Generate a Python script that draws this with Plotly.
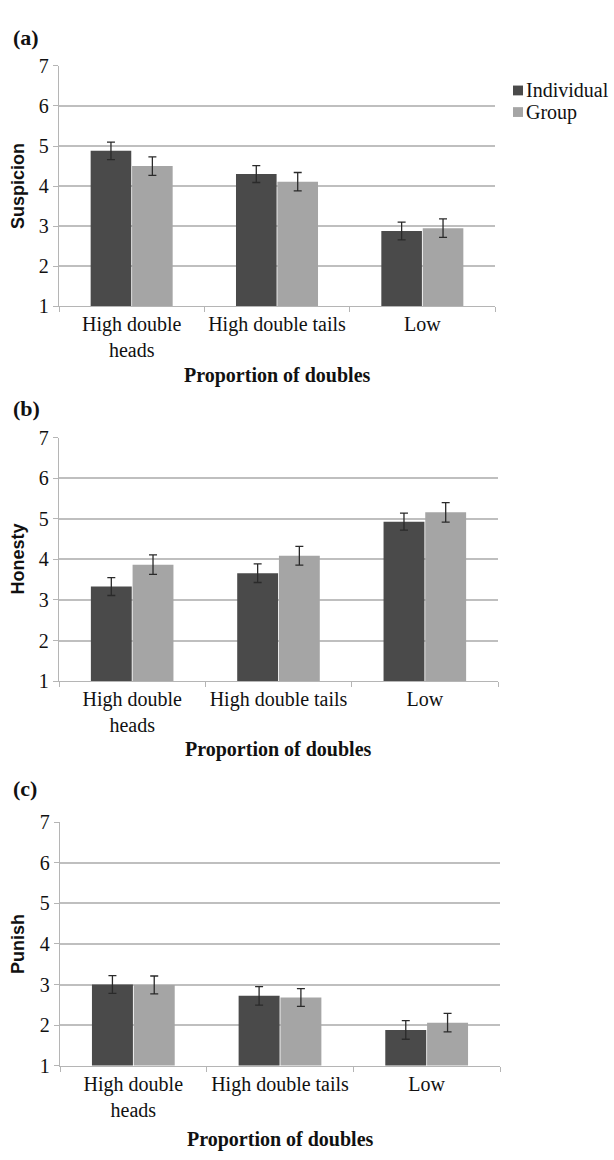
import plotly.graph_objects as go

# Condition categories shared by all three panels
categories = ["High double<br>heads", "High double tails", "Low"]

# Panel (a): Suspicion
suspicion_individual = [4.88, 4.30, 2.88]
suspicion_individual_err = [0.22, 0.21, 0.22]
suspicion_group = [4.50, 4.11, 2.95]
suspicion_group_err = [0.23, 0.23, 0.23]

# Panel (b): Honesty
honesty_individual = [3.33, 3.66, 4.93]
honesty_individual_err = [0.22, 0.23, 0.21]
honesty_group = [3.87, 4.09, 5.16]
honesty_group_err = [0.24, 0.23, 0.24]

# Panel (c): Punish
punish_individual = [3.00, 2.72, 1.88]
punish_individual_err = [0.22, 0.23, 0.23]
punish_group = [2.99, 2.68, 2.06]
punish_group_err = [0.22, 0.22, 0.23]

series_names = ["Individual", "Group"]
panel_tags = ["(a)", "(b)", "(c)"]
y_titles = ["Suspicion", "Honesty", "Punish"]
x_title = "Proportion of doubles"
y_ticks = [1, 2, 3, 4, 5, 6, 7]

DARK = "#4a4a4a"
LIGHT = "#a5a5a5"
SERIF = "Liberation Serif"
SANS = "Liberation Sans"
INK = "#111111"
W, H = 614, 1160

panels = [
    (suspicion_individual, suspicion_individual_err, suspicion_group, suspicion_group_err),
    (honesty_individual, honesty_individual_err, honesty_group, honesty_group_err),
    (punish_individual, punish_individual_err, punish_group, punish_group_err),
]

# plot areas in pixels (left, right, top, bottom)
boxes = [(59, 495, 56, 301), (59, 498, 435, 683), (60, 500, 827, 1075)]
tag_y = [27, 405, 793]
xtitle_y = [372, 753, 1150]


def px_x(v):
    return v / W


def px_y(v):
    return 1 - v / H


fig = go.Figure()
annotations = []
shapes = []

for i, ((ind, ind_e, grp, grp_e), (l, r, t, b)) in enumerate(zip(panels, boxes)):
    n = "" if i == 0 else str(i + 1)
    xa, ya = "x" + n, "y" + n
    for vals, errs, color, name in ((ind, ind_e, DARK, series_names[0]),
                                    (grp, grp_e, LIGHT, series_names[1])):
        fig.add_trace(go.Bar(
            x=categories, y=vals, name=name, marker_color=color,
            marker_line_width=0,
            error_y=dict(type="data", array=errs, color="#2a2a2a",
                         thickness=1.3, width=4),
            xaxis=xa, yaxis=ya, showlegend=False,
        ))
    fig.update_layout(**{
        "xaxis" + n: dict(
            domain=[px_x(l), px_x(r)], anchor=ya, type="category",
            showline=True, linecolor="#b5b5b5", linewidth=1.3,
            ticks="outside", tickson="boundaries", ticklen=5, tickcolor="#b5b5b5",
            tickangle=0, tickfont=dict(family=SERIF, size=20, color=INK),
            showgrid=False, zeroline=False,
        ),
        "yaxis" + n: dict(
            domain=[px_y(b), px_y(t)], anchor=xa, range=[1, 7],
            tickvals=y_ticks, showline=True, linecolor="#b5b5b5", linewidth=1.3,
            ticks="outside", ticklen=5, tickcolor="#b5b5b5",
            showgrid=True, gridcolor="#bfbfbf", gridwidth=1.5,
            tickfont=dict(family=SERIF, size=20, color=INK),
            zeroline=False,
        ),
    })
    annotations.append(dict(
        text="<b>" + panel_tags[i] + "</b>", xref="paper", yref="paper",
        x=px_x(11), y=px_y(tag_y[i]), xanchor="left", yanchor="middle",
        showarrow=False, font=dict(family=SERIF, size=22, color=INK),
    ))
    annotations.append(dict(
        text="<b>" + y_titles[i] + "</b>", xref="paper", yref="paper",
        x=px_x(18), y=px_y((t + b) / 2), xanchor="center", yanchor="middle",
        textangle=-90, showarrow=False, font=dict(family=SANS, size=18, color=INK),
    ))
    annotations.append(dict(
        text="<b>" + x_title + "</b>", xref="paper", yref="paper",
        x=px_x((l + r) / 2), y=px_y(xtitle_y[i]), xanchor="center", yanchor="middle",
        showarrow=False, font=dict(family=SERIF, size=20, color=INK),
    ))

# legend of panel (a): small swatches followed by the series names
for name, color, cy in ((series_names[0], DARK, 81), (series_names[1], LIGHT, 103)):
    shapes.append(dict(
        type="rect", xref="paper", yref="paper",
        x0=px_x(513), x1=px_x(523), y0=px_y(cy + 5), y1=px_y(cy - 5),
        fillcolor=color, line_width=0,
    ))
    annotations.append(dict(
        text=name, xref="paper", yref="paper",
        x=px_x(524), y=px_y(cy), xanchor="left", yanchor="middle",
        showarrow=False, font=dict(family=SERIF, size=20, color=INK),
    ))

fig.update_layout(
    width=W, height=H, margin=dict(l=0, r=0, t=0, b=0),
    paper_bgcolor="white", plot_bgcolor="white",
    barmode="group", bargap=0.43, bargroupgap=0.02,
    showlegend=False,
    annotations=annotations, shapes=shapes,
)

fig.write_html("out.html")
